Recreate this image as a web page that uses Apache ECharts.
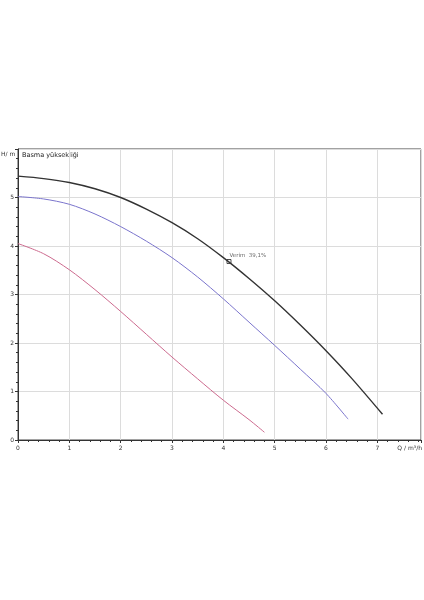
<!DOCTYPE html>
<html><head><meta charset="utf-8">
<script src="https://cdn.jsdelivr.net/npm/echarts@6/dist/echarts.min.js"></script>
<style>html,body{margin:0;padding:0;background:#fff}#c{width:424px;height:600px}</style>
</head><body><div id="c"></div>
<script>
const qBlack = [0, 0.5, 1, 1.5, 2, 2.5, 3, 3.5, 4, 4.5, 5, 5.5, 6, 6.5, 7.1];
const hBlack = [5.44, 5.39, 5.31, 5.18, 5.00, 4.76, 4.48, 4.15, 3.76, 3.33, 2.87, 2.37, 1.84, 1.27, 0.53];
const qBlue = [0, 0.5, 1, 1.5, 2, 2.5, 3, 3.5, 4, 4.5, 5, 5.5, 6, 6.43];
const hBlue = [5.02, 4.97, 4.86, 4.66, 4.40, 4.10, 3.76, 3.36, 2.91, 2.43, 1.95, 1.46, 0.96, 0.43];
const qPink = [0, 0.5, 1, 1.5, 2, 2.5, 3, 3.5, 4, 4.5, 4.8];
const hPink = [4.05, 3.84, 3.51, 3.10, 2.65, 2.18, 1.71, 1.26, 0.82, 0.42, 0.16];
const markQ = [4.11];
const markH = [3.68];
const markLabel = 'Verim  39,1%';
const yTitle = 'H/ m';
const xTitle = 'Q / m³/h';
const plotTitle = 'Basma yüksekliği';

const zip = (a, b) => a.map((v, i) => [v, b[i]]);
const chart = echarts.init(document.getElementById('c'));
const axisLbl = {fontSize: 6, color: '#333', fontFamily: 'DejaVu Sans'};
chart.setOption({
  animation: false,
  grid: {left: 18, right: 1, top: 149, bottom: 160, show: true, borderColor: '#444', borderWidth: 1},
  xAxis: {
    type: 'value', min: 0, max: 7.85, interval: 1,
    axisLine: {lineStyle: {color: '#333'}},
    axisTick: {show: true, length: 3, lineStyle: {color: '#333'}},
    minorTick: {show: true, splitNumber: 5, length: 2, lineStyle: {color: '#333'}},
    splitLine: {show: true, lineStyle: {color: '#dcdcdc'}},
    axisLabel: Object.assign({margin: 5, formatter: v => Number.isInteger(v) ? String(v) : ''}, axisLbl)
  },
  yAxis: {
    type: 'value', min: 0, max: 6, interval: 1,
    axisLine: {show: true, lineStyle: {color: '#333'}},
    axisTick: {show: true, length: 3, lineStyle: {color: '#333'}},
    minorTick: {show: true, splitNumber: 5, length: 2, lineStyle: {color: '#333'}},
    splitLine: {show: true, lineStyle: {color: '#dcdcdc'}},
    axisLabel: Object.assign({margin: 4, formatter: v => v === 6 ? '' : String(v)}, axisLbl)
  },
  graphic: [
    {type: 'text', left: 1, top: 151, style: {text: yTitle, fontSize: 6, fill: '#333', fontFamily: 'DejaVu Sans'}},
    {type: 'text', left: 22, top: 152, style: {text: plotTitle, fontSize: 6.5, fill: '#222', fontFamily: 'DejaVu Sans'}},
    {type: 'text', right: 2, top: 445, style: {text: xTitle, fontSize: 6, fill: '#333', fontFamily: 'DejaVu Sans'}}
  ],
  series: [
    {type: 'line', data: zip(qPink, hPink), smooth: 0.3, symbol: 'none', lineStyle: {color: '#cc6a8e', width: 1}},
    {type: 'line', data: zip(qBlue, hBlue), smooth: 0.3, symbol: 'none', lineStyle: {color: '#7a74cc', width: 1}},
    {type: 'line', data: zip(qBlack, hBlack), smooth: 0.3, symbol: 'none', lineStyle: {color: '#333333', width: 1.4}},
    {type: 'scatter', data: zip(markQ, markH), symbol: 'rect', symbolSize: 4,
     itemStyle: {color: '#fff', borderColor: '#222', borderWidth: 1},
     label: {show: true, formatter: markLabel, position: [3, -6], fontSize: 5.5, color: '#444', fontFamily: 'DejaVu Sans'}}
  ]
});
</script></body></html>
